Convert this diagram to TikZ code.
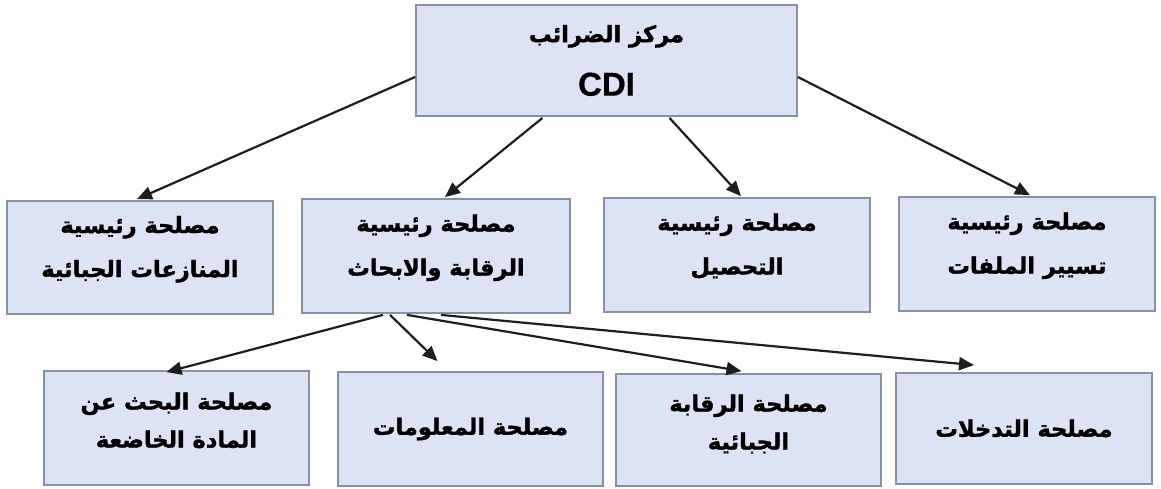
\documentclass[tikz,border=0pt]{standalone}
\usepackage{fontspec}
\setmainfont{Liberation Sans}
\newfontfamily\arabicfont[Script=Arabic,RawFeature={embolden=1.6}]{DejaVu Sans Bold}
\TeXXeTstate=1
\usetikzlibrary{arrows.meta}
\definecolor{boxfill}{RGB}{221,226,245}
\definecolor{boxline}{RGB}{135,145,165}
\definecolor{arrowcol}{RGB}{30,30,30}
\newcommand{\arline}[1]{\beginR #1\endR}
\begin{document}
\begin{tikzpicture}[x=1pt,y=-1pt,
  orgbox/.style={draw=boxline, fill=boxfill, line width=1.8pt, inner sep=0pt, align=center, text=black},
  artext/.style={font=\arabicfont\fontsize{22.5}{44}\selectfont, text depth=22pt},
  artextb/.style={font=\arabicfont\fontsize{22.5}{38}\selectfont, text depth=16pt},
  artexts/.style={font=\arabicfont\fontsize{22.5}{38}\selectfont},
  conn/.style={draw=arrowcol, line width=2.2pt, -{Triangle[length=15pt,width=13pt]}}]
\useasboundingbox[fill=white] (0,0) rectangle (1161,488);

% top
\node[orgbox, minimum width=381pt, minimum height=111pt] (top) at (606.5,60.5)
  {{\arabicfont\fontsize{22.5}{26}\selectfont\arline{مركز الضرائب}}\\[24pt]
   {\bfseries\fontsize{33}{33}\selectfont\addfontfeature{FakeBold=0.5}CDI}};

% middle row
\node[orgbox, artext, minimum width=266pt, minimum height=113pt] (m1) at (140,257.5)
  {\arline{مصلحة رئيسية}\\\arline{المنازعات الجبائية}};
\node[orgbox, artext, minimum width=268pt, minimum height=114pt] (m2) at (436,256)
  {\arline{مصلحة رئيسية}\\\arline{الرقابة والابحاث}};
\node[orgbox, artext, minimum width=266pt, minimum height=114pt] (m3) at (737,255)
  {\arline{مصلحة رئيسية}\\\arline{التحصيل}};
\node[orgbox, artext, minimum width=256pt, minimum height=114pt] (m4) at (1027,254)
  {\arline{مصلحة رئيسية}\\\arline{تسيير الملفات}};

% bottom row
\node[orgbox, artextb, minimum width=265pt, minimum height=114pt] (b1) at (176.5,428)
  {\arline{مصلحة البحث عن}\\\arline{المادة الخاضعة}};
\node[orgbox, artexts, minimum width=265pt, minimum height=114pt] (b2) at (470.5,429)
  {\arline{مصلحة المعلومات}};
\node[orgbox, artextb, minimum width=265pt, minimum height=112pt] (b3) at (748.5,430)
  {\arline{مصلحة الرقابة}\\\arline{الجبائية}};
\node[orgbox, artexts, minimum width=256pt, minimum height=111pt] (b4) at (1024,428.5)
  {\arline{مصلحة التدخلات}};

% connectors from top
\draw[conn] ([yshift=-16.5pt]top.west) -- ([xshift=-3pt,yshift=1pt]m1.north);
\draw[conn] ([xshift=-64pt,yshift=-1pt]top.south) -- ([xshift=9pt,yshift=1pt]m2.north);
\draw[conn] ([xshift=63pt,yshift=-1pt]top.south) -- ([xshift=4pt,yshift=1pt]m3.north);
\draw[conn] ([yshift=-16.5pt]top.east) -- ([xshift=3pt,yshift=1pt]m4.north);

% connectors from m2
\draw[conn] ([xshift=-53pt,yshift=-1pt]m2.south) -- ([xshift=-10pt,yshift=-2pt]b1.north);
\draw[conn] ([xshift=-46pt,yshift=-1pt]m2.south) -- ([xshift=-33pt,yshift=10pt]b2.north);
\draw[conn] ([xshift=-29pt,yshift=-1pt]m2.south) -- ([xshift=-7pt,yshift=2pt]b3.north);
\draw[conn] ([xshift=5pt,yshift=-1pt]m2.south) -- ([xshift=-50pt,yshift=7pt]b4.north);
\end{tikzpicture}
\end{document}
